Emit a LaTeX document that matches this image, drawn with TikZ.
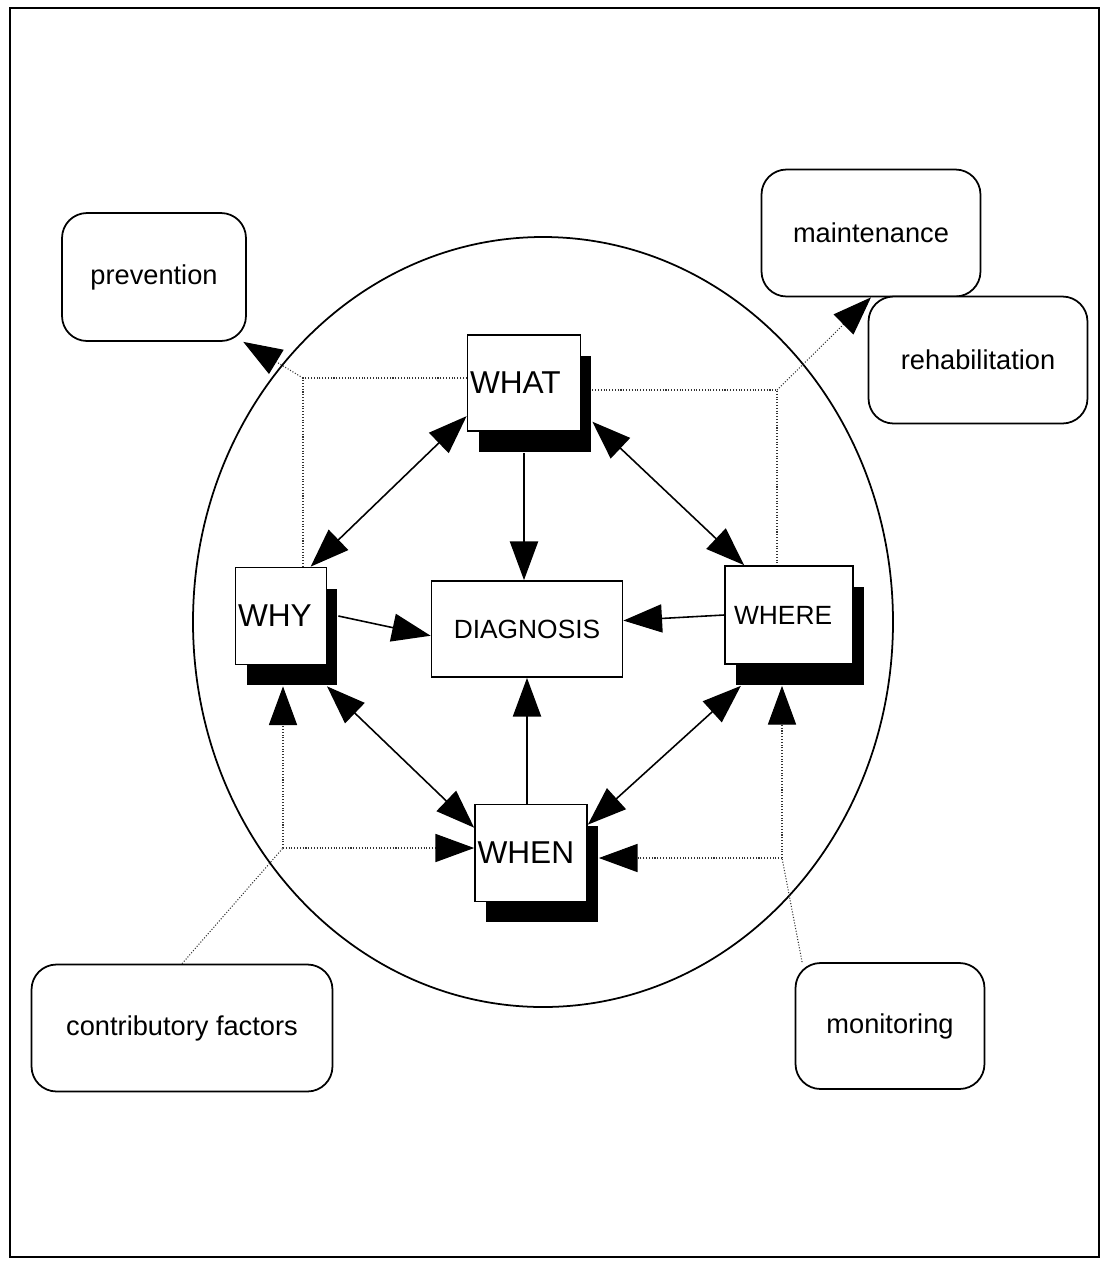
\documentclass[tikz,border=0pt]{standalone}
\usepackage{fontspec}
\setmainfont{Liberation Sans}
\usetikzlibrary{arrows.meta,shadows,calc}

\begin{document}
\begin{tikzpicture}[x=0.02cm,y=-0.02cm,
  >={Triangle[length=22pt,width=16pt,color=black]},
  qbox/.style={draw,line width=1pt,fill=white,inner sep=0pt,align=left,
    drop shadow={shadow xshift=0.22cm,shadow yshift=-0.42cm,fill=black,opacity=1}},
  goal/.style={draw,line width=1pt,fill=white,rounded corners=0.5cm,inner sep=0pt,
    minimum width=4.38cm,minimum height=2.54cm,font=\fontsize{15.5}{18}\selectfont},
  big/.style={font=\fontsize{18}{21}\selectfont},
  small/.style={font=\fontsize{15}{18}\selectfont},
  conn/.style={line width=0.9pt},
  link/.style={line width=0.6pt,black!80,densely dotted}]
\useasboundingbox (0,0) rectangle (1103,1262);
\draw[line width=1pt] (10,8) rectangle (1099,1257);
\draw[line width=1pt] (543,622) ellipse [x radius=350,y radius=385];

\node[qbox,big,minimum width=2.26cm,minimum height=1.92cm,text width=2.16cm] (what) at (524,383) {WHAT};
\node[qbox,big,minimum width=1.82cm,minimum height=1.94cm,text width=1.72cm] (why) at (281,616) {WHY};
\node[qbox,small,minimum width=2.56cm,minimum height=1.96cm,text width=2.2cm] (where) at (789,615) {WHERE};
\node[qbox,big,minimum width=2.24cm,minimum height=1.94cm,text width=2.14cm] (when) at (531,853) {WHEN};
\node[draw,line width=1pt,small,minimum width=3.82cm,minimum height=1.92cm] (diag) at (527,629) {DIAGNOSIS};

\node[goal,minimum width=3.68cm,minimum height=2.56cm] (prev) at (154,277) {prevention};
\node[goal] (maint) at (871,233) {maintenance};
\node[goal] (rehab) at (978,360) {rehabilitation};
\node[goal,minimum width=6.02cm] (contrib) at (182,1028) {contributory factors};
\node[goal,minimum width=3.78cm,minimum height=2.52cm] (monit) at (890,1026) {monitoring};

\coordinate (jTL) at (303,378);
\coordinate (jTR) at (777,390);
\coordinate (jBL) at (283,848);
\coordinate (jBR) at (782,858);

\draw[conn,<->] (what.210) -- (why.59);
\draw[conn,<->] ([xshift=0.22cm]what.326) -- (where.132);
\draw[conn,<->] ([yshift=-0.42cm]why.313) -- (when.156);
\draw[conn,<->] ([yshift=-0.42cm]where.226) -- ([yshift=-0.42cm]when.north east);
\draw[conn,->] ([yshift=-0.42cm]what.south) -- (diag.north -| what.south);
\draw[conn,->] ([xshift=0.22cm]why.east) -- (diag.184);
\draw[conn,->] (where.west) -- (diag.5);
\draw[conn,->] (when.north -| diag.south) -- (diag.south);

\draw[link] (jTL -| what.west) -- (jTL) -- (jTL |- why.north);
\draw[link,->] (jTL) -- (prev.324);
\draw[link] ($(jTR -| what.east)+(11,0)$) -- (jTR) -- (jTR |- where.north);
\draw[link,->] (jTR) -- (maint.south);
\draw[link] (contrib.north) -- (jBL);
\draw[link,->] (jBL) -- ($(jBL |- why.south)+(0,21)$);
\draw[link,->] (jBL) -- (jBL -| when.west);
\draw[link] (monit.144) -- (jBR);
\draw[link,->] (jBR) -- ($(jBR |- where.south)+(0,21)$);
\draw[link,->] (jBR) -- ($(jBR -| when.east)+(11,0)$);
\end{tikzpicture}
\end{document}
